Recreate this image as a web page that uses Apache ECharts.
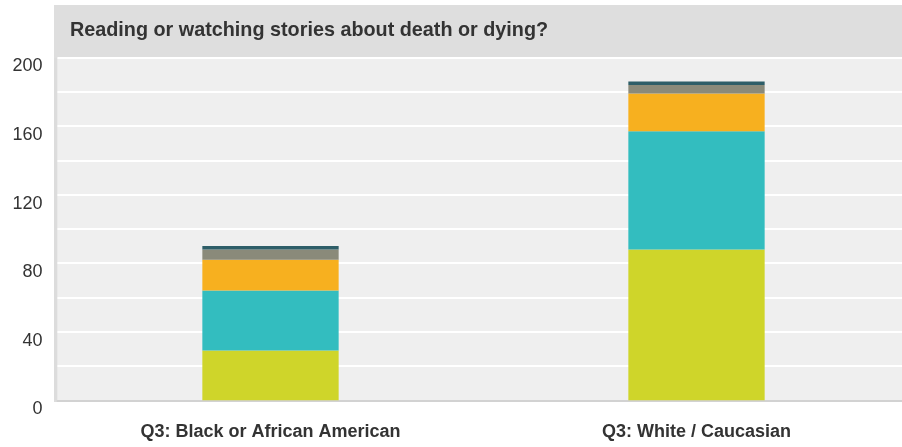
<!DOCTYPE html>
<html><head><meta charset="utf-8">
<script src="https://cdn.jsdelivr.net/npm/echarts@6/dist/echarts.min.js"></script>
<style>html,body{margin:0;padding:0;background:#fff}#c{width:902px;height:447px}</style>
</head><body><div id="c"></div>
<script>
const title = 'Reading or watching stories about death or dying?';
const categories = ['Q3: Black or African American', 'Q3: White / Caucasian'];
const seriesNames = ['A', 'B', 'C', 'D', 'E'];
const s1 = [29, 88];
const s2 = [35, 69];
const s3 = [18, 22];
const s4 = [6, 5];
const s5 = [2, 2];
const colors = ['#cfd52a', '#33bdbf', '#f7b01f', '#8a8a7a', '#2e5e68'];
const allSeries = [s1, s2, s3, s4, s5];

const chart = echarts.init(document.getElementById('c'), null, {renderer: 'canvas'});
const font = 'Liberation Sans, Arial, sans-serif';
chart.setOption({
  animation: false,
  textStyle: {fontFamily: font},
  graphic: [
    {type: 'rect', z: -10, shape: {x: 54, y: 5, width: 848, height: 53}, style: {fill: '#dedede'}},
    {type: 'text', z: 10, left: 70, top: 21, style: {text: title, font: 'bold 19.8px ' + font, fill: '#333'}},
    {type: 'rect', z: 0, shape: {x: 54, y: 58, width: 3.5, height: 344}, style: {fill: '#dcdcdc'}}
  ],
  grid: {left: 57.5, width: 852, top: 57.5, bottom: 46.7, show: true, backgroundColor: '#efefef', borderWidth: 0,
    outerBoundsMode: 'none', containLabel: false},
  xAxis: {
    type: 'category', data: categories,
    axisLine: {show: true, lineStyle: {color: '#d2d2d2', width: 2}},
    axisTick: {show: false},
    axisLabel: {margin: 23, fontSize: 18, fontWeight: 'bold', color: '#333', fontFamily: font}
  },
  yAxis: {
    type: 'value', min: 0, max: 200, interval: 20,
    axisLine: {show: false}, axisTick: {show: false},
    splitLine: {show: true, lineStyle: {color: '#ffffff', width: 2}},
    axisLabel: {margin: 15, fontSize: 18, color: '#333', fontFamily: font, verticalAlign: 'top',
      formatter: v => (v % 40 === 0 ? String(v) : '')}
  },
  series: allSeries.map((d, i) => ({
    name: seriesNames[i], type: 'bar', stack: 'total', data: d,
    barWidth: '32%', itemStyle: {color: colors[i]}
  }))
});
</script></body></html>
